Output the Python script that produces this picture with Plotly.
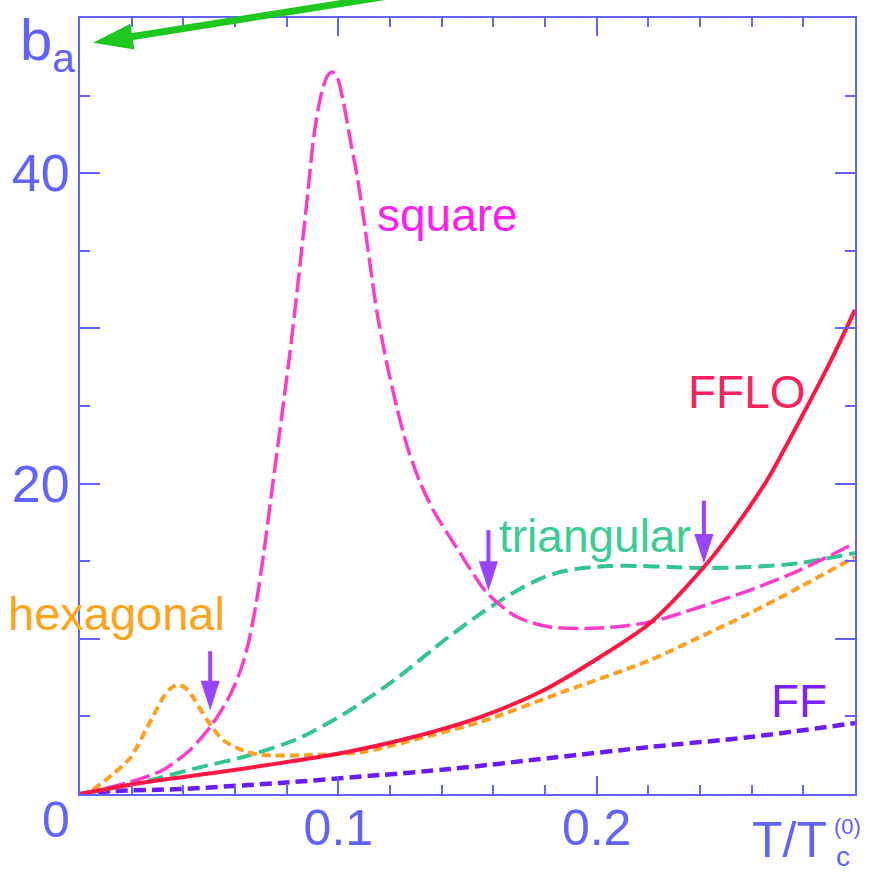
import plotly.graph_objects as go

# ---- data ----
square_x = [0, 0.0194, 0.0321, 0.0426, 0.0515, 0.0581, 0.0619, 0.0650, 0.0681, 0.0712, 0.0747, 0.0782,
            0.0813, 0.0840, 0.0863, 0.0883, 0.0902, 0.0921, 0.0941, 0.0960, 0.0976, 0.0995, 0.1018,
            0.1045, 0.1072, 0.1096, 0.1123, 0.1150, 0.1189, 0.1227, 0.1266, 0.1316, 0.1367, 0.1471,
            0.1576, 0.1692, 0.1820, 0.2013, 0.2207, 0.2400, 0.2594, 0.2787, 0.3000]
square_y = [0, 0.77, 1.55, 2.84, 4.57, 6.38, 7.86, 9.6, 12.19, 15.6, 20.1, 24.48,
            28.48, 32.35, 35.82, 38.91, 41.95, 44.07, 45.55, 46.33, 46.52, 46.2, 44.72,
            42.27, 39.88, 37.31, 34.09, 30.99, 27.64, 24.87, 22.42, 20.1, 18.3, 15.53,
            12.95, 11.4, 10.76, 10.7, 11.08, 12.05, 13.14, 14.43, 16.17]

hex_x = [0, 0.0039, 0.0128, 0.0194, 0.0259, 0.0321, 0.0348, 0.0376, 0.0403, 0.0426, 0.0492, 0.0554,
         0.0647, 0.0708, 0.0902, 0.1096, 0.1289, 0.1549, 0.1858, 0.2207, 0.2400, 0.2594, 0.2787, 0.3000]
hex_y = [0, 0.19, 1.29, 2.32, 4.25, 6.19, 6.77, 7.02, 6.89, 6.51, 4.77, 3.48,
         2.71, 2.51, 2.51, 2.71, 3.48, 4.64, 6.51, 8.63, 10.12, 11.66, 13.34, 15.27]

fflo_x = [0, 0.0259, 0.0515, 0.0774, 0.1034, 0.1289, 0.1549, 0.1781, 0.2013, 0.2207, 0.2412,
          0.2536, 0.2660, 0.2787, 0.2904, 0.3000]
fflo_y = [0, 0.77, 1.35, 1.99, 2.71, 3.67, 4.96, 6.57, 8.83, 11.02, 14.56,
          17.2, 20.23, 24.1, 27.84, 31.19]

tri_x = [0, 0.0128, 0.0259, 0.0453, 0.0646, 0.0840, 0.1034, 0.1227, 0.1421, 0.1549, 0.1626,
         0.1703, 0.1781, 0.1858, 0.1947, 0.2052, 0.2168, 0.2284, 0.2412, 0.2594, 0.2787, 0.3000]
tri_y = [0, 0.39, 0.84, 1.68, 2.45, 3.54, 5.28, 7.47, 10.05, 11.6, 12.44,
         13.21, 13.86, 14.3, 14.56, 14.69, 14.69, 14.63, 14.56, 14.63, 14.88, 15.53]

ff_x = [0, 0.0128, 0.0387, 0.0774, 0.1161, 0.1432, 0.1820, 0.2207, 0.2594, 0.3000]
ff_y = [0, 0.19, 0.32, 0.71, 1.22, 1.61, 2.32, 3.03, 3.67, 4.57]

x_tick_vals = [0.1, 0.2]
x_tick_text = ["0.1", "0.2"]
y_label_vals = [20, 40]
y_label_text = ["20", "40"]
y_long_tick_vals = [10, 30]

# transition arrows (tip positions, in data units) and shaft tops
arrow_x = [0.0504, 0.1581, 0.2415]
arrow_y = [5.4, 13.1, 14.85]
arrow_top = [9.2, 17.0, 18.9]

# green pointer arrow: tip (data units)
green_tip_x = [0.005]
green_tip_y = [48.4]

AX = "#6262ff"
FONT = "Liberation Sans, Arial, sans-serif"
PURPLE = "#9945ff"
GREEN = "#1ec81e"

fig = go.Figure()

def add(x, y, color, dash, width):
    fig.add_trace(go.Scatter(x=x, y=y, mode="lines",
                             line=dict(color=color, dash=dash, width=width, shape="spline", smoothing=0.8),
                             showlegend=False, hoverinfo="skip"))

add(ff_x, ff_y, "#6a1cff", "12px,6px", 4.5)
add(tri_x, tri_y, "#33c690", "16px,7px", 4)
add(hex_x, hex_y, "#ffa020", "9px,5px", 4)
add(square_x, square_y, "#ff3cc8", "20px,6px", 3.5)
add(fflo_x, fflo_y, "#ff1744", "solid", 4)

# empty trace that carries the overlay axis used for the long ticks at 10 and 30
fig.add_trace(go.Scatter(x=[], y=[], yaxis="y2", showlegend=False, hoverinfo="skip"))

shapes = []
# purple arrow shafts
for x, y, top in zip(arrow_x, arrow_y, arrow_top):
    shapes.append(dict(type="line", xref="x", yref="y", x0=x, x1=x, y0=y + 1.5, y1=top,
                       line=dict(color=PURPLE, width=4)))
# purple arrow heads
fig.add_trace(go.Scatter(x=arrow_x, y=arrow_y, mode="markers", cliponaxis=False,
                         marker=dict(symbol="arrow", angle=180, size=31, color=PURPLE, line=dict(width=0)),
                         showlegend=False, hoverinfo="skip"))

# green arrow: head marker + long shaft running off the top of the picture
fig.add_trace(go.Scatter(x=green_tip_x, y=green_tip_y, mode="markers", cliponaxis=False,
                         marker=dict(symbol="arrow", angle=261, size=42, color=GREEN, line=dict(width=0)),
                         showlegend=False, hoverinfo="skip"))
shapes.append(dict(type="line", xref="paper", yref="paper", x0=0.05, y0=0.9733, x1=0.4387, y1=1.0348,
                   line=dict(color=GREEN, width=7)))

ann = []
labels = [
    ("square", 0.1422, 37.3, "#ff1ef0", 46),
    ("FFLO", 0.2581, 25.9, "#ff2060", 46),
    ("triangular", 0.1992, 16.6, "#3ccc96", 46),
    ("hexagonal", 0.0143, 11.6, "#ffa31a", 47),
    ("FF", 0.2783, 6.0, "#7a22ff", 46),
]
for t, x, y, c, s in labels:
    ann.append(dict(x=x, y=y, text=t, showarrow=False, xanchor="center", yanchor="middle",
                    font=dict(family=FONT, size=s, color=c)))

def paper_text(text, x, y, size, xanchor="center", yanchor="middle"):
    ann.append(dict(x=x, y=y, xref="paper", yref="paper", text=text, showarrow=False,
                    xanchor=xanchor, yanchor=yanchor, font=dict(family=FONT, size=size, color=AX)))

paper_text("0", -0.031, -0.0335, 50)
paper_text("b<sub>a</sub>", -0.080, 0.967, 58, "left")
paper_text("T/T", 0.9665, -0.0595, 50, "right")
paper_text("c", 0.9845, -0.1030, 28, "center", "bottom")
paper_text("(0)", 0.9897, -0.0415, 22)

fig.update_layout(
    width=872, height=874,
    margin=dict(l=80, r=17, t=18, b=80),
    paper_bgcolor="white", plot_bgcolor="white",
    annotations=ann, shapes=shapes,
    xaxis=dict(range=[0, 0.3], showgrid=False, zeroline=False, showline=True, mirror="ticks",
               automargin=False,
               linecolor=AX, linewidth=2, ticks="inside", ticklen=18, tickwidth=2, tickcolor=AX,
               tickvals=x_tick_vals, ticktext=x_tick_text,
               tickfont=dict(family=FONT, size=50, color=AX), ticklabelstandoff=-11,
               minor=dict(dtick=0.02, ticks="inside", ticklen=9, tickwidth=2, tickcolor=AX, showgrid=False)),
    yaxis=dict(range=[0, 50], showgrid=False, zeroline=False, showline=True, mirror="ticks",
               automargin=False,
               linecolor=AX, linewidth=2, ticks="inside", ticklen=20, tickwidth=2, tickcolor=AX,
               tickvals=y_label_vals, ticktext=y_label_text,
               tickfont=dict(family=FONT, size=52, color=AX), ticklabelstandoff=-2,
               minor=dict(dtick=5, ticks="inside", ticklen=10, tickwidth=2, tickcolor=AX, showgrid=False)),
    yaxis2=dict(range=[0, 50], overlaying="y", side="left", showgrid=False, zeroline=False,
                showline=False, mirror="ticks", automargin=False, showticklabels=False,
                ticks="inside", ticklen=20, tickwidth=2, tickcolor=AX, tickvals=y_long_tick_vals),
)

fig.write_html("out.html", config={"displayModeBar": False},
               post_script="document.body.style.margin='0px';")
